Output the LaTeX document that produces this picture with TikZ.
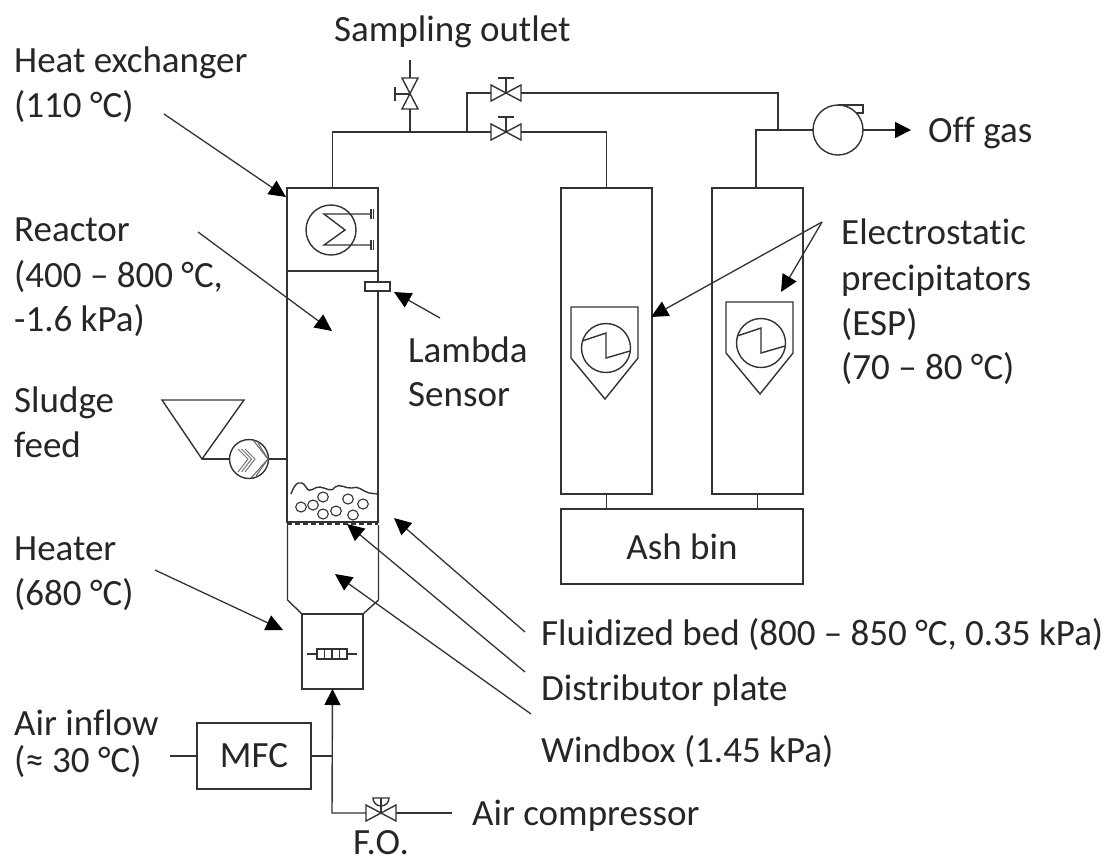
\documentclass[tikz,border=0pt]{standalone}
\usepackage{fontspec}
\setmainfont[Ligatures=NoCommon]{Carlito}
\usetikzlibrary{arrows.meta, calc, positioning}
\def\linecolor{black!80}
\def\pipewidth{1.4pt}
\def\labelsize{37}
\tikzset{
	% labels
	label text/.style={
		font=\fontsize{\labelsize}{\labelsize}\selectfont,
		anchor=base west,
		inner sep=0pt,
		text=black!85,
	},
	% process units
	unit/.style={
		shape=rectangle,
		draw=\linecolor,
		line width=\pipewidth,
		inner sep=0pt,
		outer sep=0pt,
		font=\fontsize{\labelsize}{\labelsize}\selectfont,
		text=black!85,
	},
	% pipes
	pipe/.style={
		draw=\linecolor,
		line width=\pipewidth,
	},
	% callout arrows
	callout/.style={
		draw=\linecolor,
		line width=1.3pt,
		-{Triangle[length=17pt,width=16pt,color=black]},
	},
	pics/hvalve/.style={
		code={
			\draw[pipe] (-15,-8) -- (15,8) -- (15,-8) -- (-15,8) -- cycle;
			\draw[pipe] (0,0) -- (0,-15);
			\coordinate (-in) at (-15,0);
			\coordinate (-out) at (15,0);
			\coordinate (-top) at (0,-15);
		}
	},
}

\begin{document}
\begin{tikzpicture}[x=1pt, y=-1pt]
		\useasboundingbox (0,0) rectangle (1110,863);

		% Column
		\node[
			unit,
			minimum width=91pt,
			minimum height=83pt,
		] (exchanger) at (332.5,229.5) {};
		%
		\node[
			unit,
			minimum width=61pt,
			minimum height=75pt,
		] (heater) at (332.5,651.5) {};
		%
		\draw[pipe] (exchanger.south west) -- (287,522) -- (378,522) -- (exchanger.south east);
		\coordinate (lower_left) at (287.5,600);
		\coordinate (lower_right) at (378.5,600);
		\draw[pipe] (heater.north west) -- (lower_left) -- (287.5,525);
		\draw[pipe] (heater.north east) -- (lower_right) -- (378.5,525);
		\draw[line width=2.6pt, dash pattern=on 5pt off 3pt, \linecolor] (287,524) -- (378,524);
		%
		\node[
			unit,
			minimum width=25pt,
			minimum height=9pt,
			fill=white,
		] (lambda) at (377.5,286.5) {};

		% Heat exchanger symbol
		\node[unit, circle, minimum size=50pt] (exchanger_symbol) at (331,230) {};
		\foreach \i/\y in {1/214,2/245} {
			\coordinate (hx_end\i) at (371,\y);
			\draw[pipe] (hx_end\i) ++(0,-5) -- ++(0,10) ++(2.5,0) -- ++(0,-10);
		}
		\draw[pipe] (hx_end1) -- (324,214) -- (345,230) -- (324,245) -- (hx_end2);

		% Fluidized bed
		\draw[pipe] (291,494) .. controls (295,482) and (301,479) .. (306,487)
			.. controls (310,495) and (314,486) .. (320,487)
			.. controls (327,488) and (331,493) .. (335,487)
			.. controls (340,483) and (346,489) .. (352,488)
			.. controls (358,485) and (362,491) .. (369,493) -- (378,494);
		\foreach \i/\x/\y in {1/301/507,2/313/505,3/323/497,4/323/514,5/336/511,6/348/499,7/363/504,8/353/515} {
			\draw[pipe, line width=1.1pt] (\x,\y) ellipse (5.3pt and 5pt);
		}

		% Resistor
		\node[unit, minimum width=30pt, minimum height=10pt] (resistor) at (332,654) {};
		\foreach \x in {-7.5,0,7.5} {
			\draw[pipe] ($(resistor.center)+(\x,-5)$) -- ($(resistor.center)+(\x,5)$);
		}
		\draw[pipe] (resistor.west) -- ++(-10,0);
		\draw[pipe] (resistor.east) -- ++(10,0);

		% Sludge feed
		\coordinate (hopper_tip) at (202,459);
		\draw[pipe] (162,400) -- (244,400) -- (hopper_tip) -- cycle;
		\node[unit, circle, minimum size=39pt] (screw) at (249,459) {};
		\draw[pipe] (hopper_tip) -- (screw.west);
		\draw[pipe] (screw.east) -- (287,459);
		\foreach \s in {0,3.5,7} {
			\draw[draw=black!55, line width=1pt] (238+\s,449) -- (248+\s,459) -- (238+\s,472);
		}
		\draw[draw=black!60, line width=1pt] (253,440) -- (268,459) -- (251,478);
		\draw[draw=black!60, line width=1pt] (258,443) -- (268,459) -- (256,476);

		% Precipitators
		\node[
			unit,
			minimum width=91pt,
			minimum height=306pt,
		] (esp_one) at (606.5,341) {};
		\node[
			unit,
			minimum width=91pt,
			minimum height=306pt,
		] (esp_two) at (757.5,341) {};
		\node[
			unit,
			minimum width=242pt,
			minimum height=75pt,
		] (ash_bin) at (682,546.5) {Ash bin};
		\draw[pipe] (esp_one.south) -- (esp_one.south|-ash_bin.north);
		\draw[pipe] (esp_two.south) -- (esp_two.south|-ash_bin.north);
		\foreach \i/\x/\y in {one/0/0,two/155/-5} {
			\begin{scope}[shift={(\x,\y)}]
				\draw[pipe] (571,307) -- (638,307) -- (638,358) -- (605,399) -- (571,358) -- cycle;
				\node[unit, circle, minimum size=49pt] (esp_symbol_\i) at (606,348) {};
				\draw[pipe] (582,341) -- (606,333) -- (606,358) -- (630,351);
			\end{scope}
		}

		% Valves
		\pic (valve_upper) at (506,93) {hvalve};
		\pic (valve_lower) at (506,132) {hvalve};
		\foreach \i in {upper,lower} {
			\draw[pipe] ($(valve_\i-top)+(-8,0)$) -- ($(valve_\i-top)+(8,0)$);
		}
		\pic (valve_air) at (381,813) {hvalve};
		\draw[pipe] (373,798) arc (180:0:8) -- cycle;
		% Sampling valve
		\coordinate (sampling_top) at (410,60);
		\coordinate (sampling_tee) at (410,132);
		\draw[pipe] (402,78) -- (418,78) -- (402,109) -- (418,109) -- cycle;
		\draw[pipe] (410,94) -- (395,94) (395,87) -- (395,101);
		\draw[pipe] (sampling_top) -- (410,78);
		\draw[pipe] (410,109) -- (sampling_tee);

		% Blower
		\node[unit, circle, minimum size=50pt] (blower) at (838,130) {};
		\draw[pipe] (blower.north) -- (863,105) -- (863,113) -- (856,113);

		% Pipes
		\coordinate (branch) at (467,132);
		\draw[pipe] (exchanger.north) -- (exchanger.north|-valve_lower-in) -- (valve_lower-in);
		\draw[pipe] (valve_lower-out) -- (esp_one.north|-valve_lower-out) -- (esp_one.north);
		\draw[pipe] (branch) -- (branch|-valve_upper-in) -- (valve_upper-in);
		\coordinate (outlet_tee) at (778,130);
		\draw[pipe] (valve_upper-out) -- (outlet_tee|-valve_upper-out) -- (outlet_tee);
		\draw[pipe] (756,188) -- (756,130) -- (blower.west);
		\coordinate (off_gas) at (911,130);
		\draw[pipe, -{Triangle[length=16pt,width=16pt,color=black]}] (blower.east) -- (off_gas);

		% Air supply
		\node[
			unit,
			minimum width=114pt,
			minimum height=66pt,
		] (mfc) at (254,756) {MFC};
		\coordinate (air_tee) at (332,756);
		\coordinate (air_in) at (170,756);
		\coordinate (air_out) at (452,813);
		\coordinate (air_corner) at (332,813);
		\draw[pipe] (air_in) -- (mfc.west);
		\draw[pipe] (mfc.east) -- (air_tee);
		\draw[pipe] (valve_air-out) -- (air_out);
		\draw[pipe, -{Triangle[length=16pt,width=16pt,color=black]}] (valve_air-in) -- (air_corner) -- (heater.south);

		% Labels
		\node[label text] (label_sampling) at (334,41) {Sampling outlet};
		\node[label text] (label_exchanger) at (14,72) {Heat exchanger};
		\node[label text] (label_exchanger_temp) at (14,117) {(110 °C)};
		\node[label text] (label_reactor) at (14,241) {Reactor};
		\node[label text] (label_reactor_temp) at (14,287) {(400 – 800 °C,};
		\node[label text] (label_reactor_press) at (14,331) {-1.6 kPa)};
		\node[label text] (label_sludge) at (14,412) {Sludge};
		\node[label text] (label_feed) at (14,457) {feed};
		\node[label text] (label_heater) at (14,560) {Heater};
		\node[label text] (label_heater_temp) at (14,605) {(680 °C)};
		\node[label text] (label_air) at (14,735) {Air inflow};
		\node[label text] (label_air_temp) at (14,772) {(≈ 30 °C)};
		\node[label text] (label_lambda) at (408,362) {Lambda};
		\node[label text] (label_sensor) at (408,406) {Sensor};
		\node[label text] (label_off) at (928,142) {Off gas};
		\node[label text] (label_esp_a) at (841,244) {Electrostatic};
		\node[label text] (label_esp_b) at (841,290) {precipitators};
		\node[label text] (label_esp_c) at (841,335) {(ESP)};
		\node[label text] (label_esp_d) at (841,379) {(70 – 80 °C)};
		\node[label text] (label_bed) at (541,645) {Fluidized bed (800 – 850 °C, 0.35 kPa)};
		\node[label text] (label_plate) at (541,700) {Distributor plate};
		\node[label text] (label_windbox) at (541,762) {Windbox (1.45 kPa)};
		\node[label text] (label_compressor) at (472,825) {Air compressor};
		\node[label text, anchor=base] (label_fo) at (381,854) {F.O.};

		% Callouts
		\coordinate (from_exchanger) at (164,114);
		\coordinate (from_reactor) at (198,232);
		\coordinate (from_heater) at (155,570);
		\coordinate (from_lambda) at (440,318);
		\coordinate (from_bed) at (525,632);
		\coordinate (from_plate) at (525,672);
		\coordinate (from_windbox) at (531,714);
		\coordinate (from_esp) at (822,222);
		\draw[callout] (from_exchanger) -- (286,197);
		\draw[callout] (from_reactor) -- (332,331);
		\draw[callout] (from_heater) -- (283,630);
		\draw[callout] (from_lambda) -- (394,292);
		\draw[callout] (from_bed) -- (394,518);
		\draw[callout] (from_plate) -- (347,524);
		\draw[callout] (from_windbox) -- (335,574);
		\draw[callout] (from_esp) -- (651,317);
		\draw[callout] (from_esp) -- (781,292);
	\end{tikzpicture}
\end{document}
